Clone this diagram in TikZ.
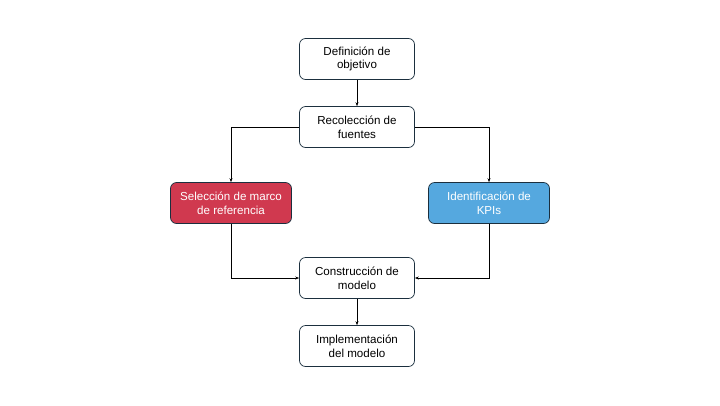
\documentclass[tikz,border=0pt]{standalone}
\usepackage{fontspec}
\setmainfont{Liberation Sans}
\usepackage{tikz}
\usetikzlibrary{arrows.meta}
\definecolor{boxline}{HTML}{1B2F3E}
\definecolor{boxred}{HTML}{D0394F}
\definecolor{boxblue}{HTML}{55A8DF}

\begin{document}
\begin{tikzpicture}[x=1pt, y=-1pt,
		stage/.style={rounded corners=6pt, draw=boxline, line width=0.7pt, align=center,
			minimum width=115pt, minimum height=41pt, inner sep=2pt,
			font=\fontsize{11.6}{13.8}\selectfont},
		wide/.style={stage, minimum width=121pt, text=white},
		>={Stealth[length=4pt, width=3pt]}]
		\useasboundingbox (0, 0) rectangle (720, 405);

		\node[stage] at (357, 59) (def) {Definición de\\objetivo};
		\node[stage] at (357, 127) (rec) {Recolección de\\fuentes};
		\node[wide, fill=boxred] at (231, 203) (sel) {Selección de marco\\de referencia};
		\node[wide, fill=boxblue] at (489, 203) (kpi) {Identificación de\\KPIs};
		\node[stage] at (357, 278) (con) {Construcción de\\modelo};
		\node[stage] at (357, 346) (imp) {Implementación\\del modelo};

		\draw[->] (def) -- (rec);
		\draw[->] (rec.west) -| (sel.north);
		\draw[->] (rec.east) -| (kpi.north);
		\draw[->] (sel.south) |- (con.west);
		\draw[->] (kpi.south) |- (con.east);
		\draw[->] (con) -- (imp);
	\end{tikzpicture}
\end{document}
